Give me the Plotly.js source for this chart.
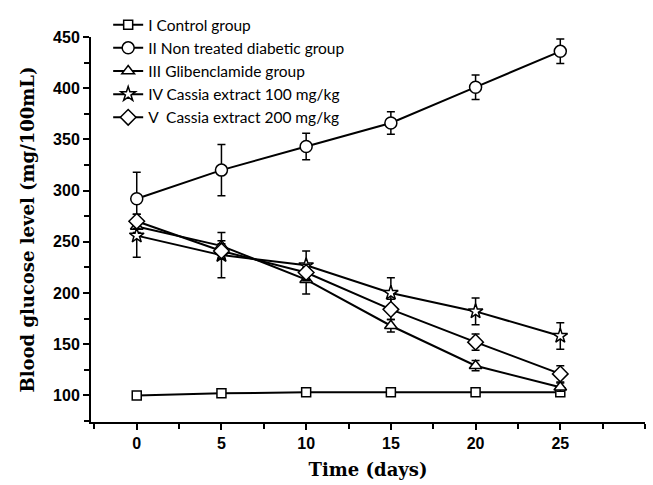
<!DOCTYPE html>
<html>
<head>
<meta charset="utf-8">
<script src="https://cdn.plot.ly/plotly-3.0.1.min.js"></script>
<style>html,body{margin:0;padding:0;background:#fff;}#chart{width:653px;height:485px;}</style>
</head>
<body>
<div id="chart"></div>
<script>
const days = [0, 5, 10, 15, 20, 25];
const groupNames = [
  "I Control group",
  "II Non treated diabetic group",
  "III Glibenclamide group",
  "IV Cassia extract 100 mg/kg",
  "V  Cassia extract 200 mg/kg"
];
const controlMean = [100, 102, 103, 103, 103, 103];
const controlErr  = [3, 3, 3, 3, 3, 3];
const diabeticMean = [292, 320, 343, 366, 401, 436];
const diabeticErr  = [26, 25, 13, 11, 12, 12];
const glibenMean = [265, 246, 213, 168, 129, 108];
const glibenErr  = [6, 5, 14, 6, 5, 4];
const cassia100Mean = [256, 237, 227, 200, 182, 158];
const cassia100Err  = [21, 22, 14, 15, 13, 13];
const cassia200Mean = [270, 241, 220, 184, 152, 121];
const cassia200Err  = [7, 7, 8, 10, 8, 8];
const xTicks = [0, 5, 10, 15, 20, 25];
const yTicks = [100, 150, 200, 250, 300, 350, 400, 450];

const symbols = ["square", "circle", "triangle-up", "star", "diamond"];
const sizes = [9, 12, 11, 11, 12];
const means = [controlMean, diabeticMean, glibenMean, cassia100Mean, cassia200Mean];
const errs = [controlErr, diabeticErr, glibenErr, cassia100Err, cassia200Err];

const traces = groupNames.map((name, i) => ({
  x: days,
  y: means[i],
  name: name,
  type: "scatter",
  mode: "lines+markers",
  line: {color: "black", width: 2},
  marker: {symbol: symbols[i], size: sizes[i], color: "white", line: {color: "black", width: 1.5}},
  error_y: {type: "data", array: errs[i], visible: true, color: "black", thickness: 1.5, width: 4}
}));

const layout = {
  width: 653, height: 485,
  margin: {l: 91, r: 8, t: 35, b: 63},
  paper_bgcolor: "white", plot_bgcolor: "white",
  showlegend: true,
  legend: {
    x: 0.031, y: 1.075, xanchor: "left", yanchor: "top",
    bgcolor: "rgba(0,0,0,0)",
    font: {family: "Lato", size: 15.5, color: "black"},
    tracegroupgap: 0
  },
  xaxis: {
    range: [-2.7, 30],
    tickmode: "array", tickvals: xTicks,
    ticks: "outside", ticklen: 6, tickwidth: 2, tickcolor: "black",
    showline: true, linecolor: "black", linewidth: 2,
    showgrid: false, zeroline: false,
    tickfont: {family: "Liberation Sans", size: 16, color: "black", weight: "bold"},
    minor: {tick0: 0, dtick: 2.5, ticks: "outside", ticklen: 5, tickwidth: 2, tickcolor: "black", showgrid: false},
    title: {text: "Time (days)", font: {family: "DejaVu Serif", size: 18, color: "black", weight: "bold"}, standoff: 12}
  },
  yaxis: {
    range: [74, 450],
    tickmode: "array", tickvals: yTicks,
    ticks: "outside", ticklen: 6, tickwidth: 2, tickcolor: "black",
    showline: true, linecolor: "black", linewidth: 2,
    showgrid: false, zeroline: false,
    tickfont: {family: "Liberation Sans", size: 16, color: "black", weight: "bold"},
    minor: {tick0: 0, dtick: 25, ticks: "outside", ticklen: 5, tickwidth: 2, tickcolor: "black", showgrid: false},
    title: {text: "Blood glucose level (mg/100mL)", font: {family: "DejaVu Serif", size: 18, color: "black", weight: "bold"}, standoff: 14}
  }
};

Plotly.newPlot("chart", traces, layout, {displayModeBar: false, staticPlot: true});
</script>
</body>
</html>
